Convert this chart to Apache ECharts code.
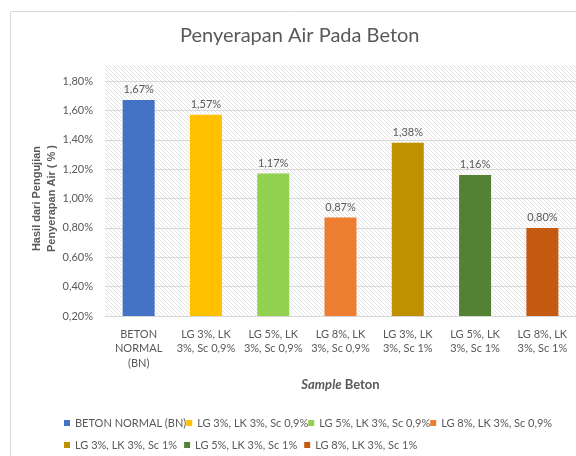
<!DOCTYPE html>
<html><head><meta charset="utf-8">
<script src="https://cdn.jsdelivr.net/npm/echarts@6/dist/echarts.min.js"></script>
<style>html,body{margin:0;padding:0;background:#fff}#c{width:576px;height:456px}</style>
</head><body><div id="c"></div>
<script>
var categories = ['BETON\nNORMAL\n(BN)', 'LG 3%, LK\n3%, Sc 0,9%', 'LG 5%, LK\n3%, Sc 0,9%', 'LG 8%, LK\n3%, Sc 0,9%', 'LG 3%, LK\n3%, Sc 1%', 'LG 5%, LK\n3%, Sc 1%', 'LG 8%, LK\n3%, Sc 1%'];
var seriesNames = ['BETON NORMAL (BN)', 'LG 3%, LK 3%, Sc 0,9%', 'LG 5%, LK 3%, Sc 0,9%', 'LG 8%, LK 3%, Sc 0,9%', 'LG 3%, LK 3%, Sc 1%', 'LG 5%, LK 3%, Sc 1%', 'LG 8%, LK 3%, Sc 1%'];
var values = [1.67, 1.57, 1.17, 0.87, 1.38, 1.16, 0.80];
var colors = ['#4472C4', '#FFC000', '#92D050', '#ED7D31', '#BF9000', '#548235', '#C55A11'];
var yTicks = [0.2, 0.4, 0.6, 0.8, 1.0, 1.2, 1.4, 1.6, 1.8];

var FONT = 'Lato';
var TXT = '#595959';

function fmt(v){ return v.toFixed(2).replace('.', ',') + '%'; }

var tile = document.createElement('canvas');
tile.width = 4; tile.height = 4;
var g = tile.getContext('2d');
g.fillStyle = '#ffffff'; g.fillRect(0,0,4,4);
g.strokeStyle = '#e3e3e3'; g.lineWidth = 1;
g.beginPath();
g.moveTo(-1,-1); g.lineTo(5,5);
g.moveTo(-1,3); g.lineTo(1,5);
g.moveTo(3,-1); g.lineTo(5,1);
g.stroke();

var chart = echarts.init(document.getElementById('c'), null, {renderer:'canvas'});

var series = seriesNames.map(function(name, i){
  var d = categories.map(function(c, j){ return j === i ? values[i] : '-'; });
  return {
    name: name, type: 'bar', stack: 'all', barWidth: 32,
    itemStyle: {color: colors[i]},
    data: d,
    label: {show: true, position: 'top', distance: 5, color: TXT, fontFamily: FONT, fontSize: 11,
      formatter: function(p){ return fmt(p.value); }}
  };
});

var legendText = {color: TXT, fontFamily: FONT, fontSize: 11, lineHeight: 14};

chart.setOption({
  animation: false,
  textStyle: {fontFamily: FONT},
  color: colors,
  title: {
    text: 'Penyerapan Air Pada Beton', left: 175, top: 21,
    textStyle: {color: TXT, fontFamily: FONT, fontSize: 20, fontWeight: 'normal'}
  },
  graphic: [
    {type: 'rect', z: -10, silent: true, shape: {x: 10.5, y: 11.5, width: 700, height: 600},
      style: {fill: '#fff', stroke: '#d9d9d9', lineWidth: 1}},
    {type: 'rect', z: -9, silent: true, shape: {x: 105, y: 65, width: 471, height: 251},
      style: {fill: {image: tile, repeat: 'repeat'}}}
  ],
  legend: [
    {left: 64, top: 416, padding: 0, itemWidth: 6, itemHeight: 6, itemGap: 0, icon: 'rect',
      textStyle: legendText, data: seriesNames.slice(0, 4)},
    {left: 64, top: 438, padding: 0, itemWidth: 6, itemHeight: 6, itemGap: 7, icon: 'rect',
      textStyle: legendText, data: seriesNames.slice(4)}
  ],
  grid: {left: 105, right: 0, top: 81, bottom: 140, containLabel: false},
  xAxis: {
    type: 'category', data: categories,
    name: '{i|Sample} Beton', nameLocation: 'middle', nameGap: 62,
    nameTextStyle: {color: TXT, fontFamily: FONT, fontSize: 13, fontWeight: 'bold',
      rich: {i: {fontStyle: 'italic', fontWeight: 'bold', color: TXT, fontFamily: FONT, fontSize: 13}}},
    axisLine: {lineStyle: {color: '#d9d9d9'}},
    axisTick: {show: false},
    axisLabel: {interval: 0, color: TXT, fontFamily: FONT, fontSize: 11, lineHeight: 14.5, margin: 11}
  },
  yAxis: {
    type: 'value', min: yTicks[0], max: yTicks[yTicks.length-1], interval: 0.2,
    name: 'Hasil dari Pengujian\nPenyerapan Air ( % )', nameLocation: 'middle', nameGap: 46, nameRotate: 90,
    nameMoveOverlap: false,
    nameTextStyle: {color: TXT, fontFamily: 'Liberation Sans', fontSize: 11, fontWeight: 'bold', lineHeight: 15},
    axisLine: {show: false}, axisTick: {show: false},
    splitLine: {lineStyle: {color: '#d9d9d9'}},
    axisLabel: {color: TXT, fontFamily: FONT, fontSize: 11, margin: 12, formatter: fmt}
  },
  series: series
});
</script></body></html>
